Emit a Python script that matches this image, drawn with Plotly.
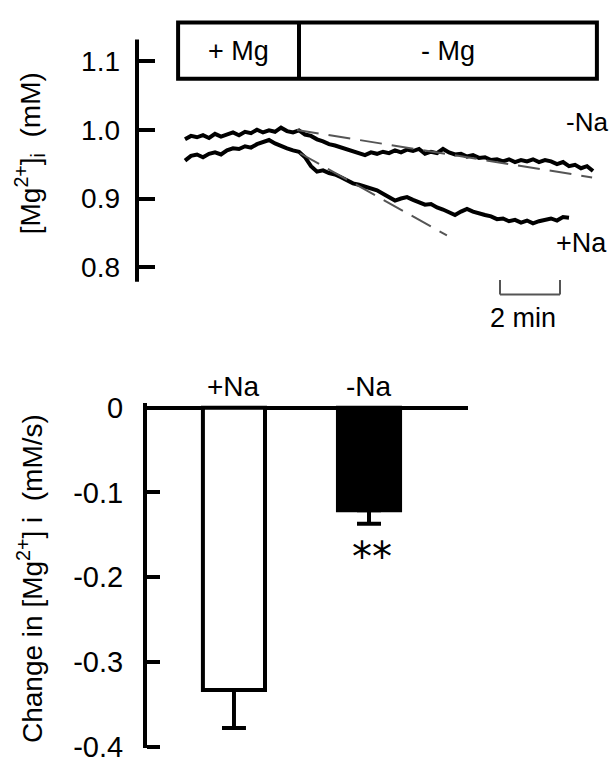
import plotly.graph_objects as go

# ---------------- data: top panel (intracellular Mg trace) ----------------
TIME_MIN = [1.6, 1.8, 2.0, 2.2, 2.4, 2.6, 2.8, 3.0, 3.2, 3.4,
            3.6, 3.8, 4.0, 4.2, 4.4, 4.6, 4.8, 5.0, 5.2, 5.4,
            5.6, 5.8, 6.0, 6.2, 6.4, 6.6, 6.8, 7.0, 7.2, 7.4,
            7.6, 7.8, 8.0, 8.2, 8.4, 8.6, 8.8, 9.0, 9.2, 9.4,
            9.6, 9.8, 10.0, 10.2, 10.4, 10.6, 10.8, 11.0, 11.2, 11.4,
            11.6, 11.8, 12.0, 12.2, 12.4, 12.6, 12.8, 13.0, 13.2, 13.4,
            13.6, 13.8, 14.0, 14.2, 14.4, 14.6, 14.8, 15.0, 15.2]

MG_MINUS_NA = [0.986, 0.991, 0.989, 0.992, 0.988, 0.994, 0.990, 0.993, 0.996, 0.992,
               0.997, 0.995, 1.000, 0.996, 0.999, 0.997, 1.003, 0.998, 0.996, 0.999,
               0.993, 0.991, 0.986, 0.983, 0.979, 0.977, 0.974, 0.972, 0.968, 0.966,
               0.963, 0.967, 0.965, 0.968, 0.966, 0.970, 0.967, 0.971, 0.969, 0.972,
               0.965, 0.968, 0.966, 0.972, 0.967, 0.964, 0.965, 0.961, 0.963, 0.959,
               0.960, 0.956, 0.957, 0.954, 0.957, 0.953, 0.956, 0.954, 0.957, 0.953,
               0.956, 0.954, 0.950, 0.953, 0.947, 0.949, 0.944, 0.947, 0.940]

MG_PLUS_NA = [0.955, 0.962, 0.964, 0.960, 0.965, 0.967, 0.964, 0.970, 0.973, 0.972,
              0.976, 0.974, 0.979, 0.982, 0.985, 0.980, 0.976, 0.973, 0.970, 0.968,
              0.960, 0.947, 0.939, 0.941, 0.937, 0.935, 0.931, 0.927, 0.922, 0.920,
              0.917, 0.914, 0.912, 0.907, 0.902, 0.897, 0.900, 0.902, 0.898, 0.894,
              0.891, 0.892, 0.887, 0.884, 0.880, 0.876, 0.881, 0.885, 0.881, 0.878,
              0.876, 0.874, 0.870, 0.871, 0.867, 0.869, 0.865, 0.868, 0.864, 0.867,
              0.869, 0.871, 0.868, 0.873, 0.872]

FIT_MINUS_NA_T = [5.33, 15.17]
FIT_MINUS_NA_V = [0.9996, 0.9307]
FIT_PLUS_NA_T = [5.43, 10.33]
FIT_PLUS_NA_V = [0.9658, 0.8463]

TOP_TICKS = [0.8, 0.9, 1.0, 1.1]
TOP_TICK_LABELS = ["0.8", "0.9", "1.0", "1.1"]

# protocol bar (+Mg / -Mg), minutes
PROTO_START, PROTO_SWITCH, PROTO_END = 1.37, 5.4, 15.33
SCALE_START, SCALE_LEN = 12.1, 2.0

# ---------------- data: bottom panel (rate bar chart) ----------------
CONDITIONS = ["+Na", "-Na"]
RATE_MEAN = [-0.333, -0.121]
RATE_SEM = [0.045, 0.016]
BAR_FILL = ["white", "black"]
BOT_TICKS = [0, -0.1, -0.2, -0.3, -0.4]
BOT_TICK_LABELS = ["0", "-0.1", "-0.2", "-0.3", "-0.4"]

FONT = "Liberation Sans, Arial, sans-serif"
W, H = 612, 773

fig = go.Figure()

fig.add_trace(go.Scatter(x=TIME_MIN, y=MG_MINUS_NA, mode="lines",
                         line=dict(color="black", width=4), xaxis="x", yaxis="y",
                         showlegend=False))
fig.add_trace(go.Scatter(x=TIME_MIN[:len(MG_PLUS_NA)], y=MG_PLUS_NA, mode="lines",
                         line=dict(color="black", width=4), xaxis="x", yaxis="y",
                         showlegend=False))
for ft, fv in [(FIT_MINUS_NA_T, FIT_MINUS_NA_V), (FIT_PLUS_NA_T, FIT_PLUS_NA_V)]:
    fig.add_trace(go.Scatter(x=ft, y=fv, mode="lines",
                             line=dict(color="#555555", width=2, dash="22px,10px"),
                             xaxis="x", yaxis="y", showlegend=False))

xpos = list(range(len(CONDITIONS)))
fig.add_trace(go.Bar(x=xpos, y=RATE_MEAN, width=0.46,
                     marker=dict(color=BAR_FILL, line=dict(color="black", width=4)),
                     error_y=dict(type="data", symmetric=False,
                                  array=[0] * len(RATE_SEM), arrayminus=RATE_SEM,
                                  color="black", thickness=4, width=12),
                     xaxis="x2", yaxis="y2", showlegend=False))

top_x0, top_x1 = 137 / W, 605 / W
top_y0, top_y1 = 1 - 335 / H, 1 - 5 / H
bot_x0, bot_x1 = 147 / W, 468 / W
bot_y0, bot_y1 = 1 - 762 / H, 1 - 405.6 / H

fig.update_layout(
    width=W, height=H, margin=dict(l=0, r=0, t=0, b=0, pad=0), autosize=False,
    paper_bgcolor="white", plot_bgcolor="white",
    font=dict(family=FONT, color="black"),
    xaxis=dict(domain=[top_x0, top_x1], range=[0, 15.6], visible=False),
    yaxis=dict(domain=[top_y0, top_y1], range=[0.7014, 1.1655], anchor="x",
               showline=False, showgrid=False, zeroline=False,
               tickmode="array", tickvals=TOP_TICKS, ticktext=TOP_TICK_LABELS,
               ticks="inside", ticklen=18, tickwidth=4, tickcolor="black",
               ticklabelstandoff=16, tickfont=dict(size=28, family=FONT)),
    xaxis2=dict(domain=[bot_x0, bot_x1], range=[-0.644, 1.733], visible=False,
                anchor="y2"),
    yaxis2=dict(domain=[bot_y0, bot_y1], range=[-0.402, 0.005], anchor="x2",
                showline=True, linewidth=4, linecolor="black", showgrid=False,
                zeroline=True, zerolinewidth=4, zerolinecolor="black",
                tickmode="array", tickvals=BOT_TICKS, ticktext=BOT_TICK_LABELS,
                ticks="inside", ticklen=13, tickwidth=4, tickcolor="black",
                ticklabelstandoff=14, ticklabeloverflow="allow",
                tickfont=dict(size=29, family=FONT)),
)

shapes = []
shapes.append(dict(type="line", xref="paper", yref="y", x0=top_x0, x1=top_x0,
                   y0=0.779, y1=1.131, line=dict(color="black", width=4)))
shapes.append(dict(type="rect", xref="x", yref="y", x0=PROTO_START, x1=PROTO_END,
                   y0=1.0741, y1=1.1557, line=dict(color="black", width=4)))
shapes.append(dict(type="line", xref="x", yref="y", x0=PROTO_SWITCH, x1=PROTO_SWITCH,
                   y0=1.0741, y1=1.1557, line=dict(color="black", width=4)))
sb = dict(color="#555555", width=2)
shapes.append(dict(type="line", xref="x", yref="y", x0=SCALE_START, x1=SCALE_START + SCALE_LEN,
                   y0=0.7605, y1=0.7605, line=sb))
shapes.append(dict(type="line", xref="x", yref="y", x0=SCALE_START, x1=SCALE_START,
                   y0=0.7605, y1=0.7817, line=sb))
shapes.append(dict(type="line", xref="x", yref="y", x0=SCALE_START + SCALE_LEN,
                   x1=SCALE_START + SCALE_LEN, y0=0.7605, y1=0.7817, line=sb))
fig.update_layout(shapes=shapes)

ann = []
def add(text, x, y, xref, yref, size, family=FONT, angle=0):
    ann.append(dict(text=text, x=x, y=y, xref=xref, yref=yref, showarrow=False,
                    xanchor="center", yanchor="middle", textangle=angle,
                    font=dict(size=size, family=family, color="black")))

add("+ Mg", (PROTO_START + PROTO_SWITCH) / 2, 1.1149, "x", "y", 27)
add("- Mg", (PROTO_SWITCH + PROTO_END) / 2, 1.1149, "x", "y", 27)
add("-Na", 15.0, 1.0108, "x", "y", 26)
add("+Na", 14.83, 0.835, "x", "y", 27)
add("2 min", SCALE_START + SCALE_LEN / 2 - 0.25, 0.727, "x", "y", 27)
add("[Mg<sup>2+</sup>]<sub>i</sub>  (mM)", 30 / W, 1 - 147 / H, "paper", "paper", 28, angle=-90)
add("Change in [Mg<sup>2+</sup>] i  (mM/s)", 30 / W, 1 - 587 / H, "paper", "paper", 28, angle=-90)
for i, c in enumerate(CONDITIONS):
    ann.append(dict(text=c, x=i, y=0, xref="x2", yref="y2", yanchor="bottom", yshift=4,
                    showarrow=False, font=dict(size=28, family=FONT)))
add("**", 1.02, -0.176, "x2", "y2", 40, family="DejaVu Sans")
fig.update_layout(annotations=ann)

fig.write_html("out.html", config={"displayModeBar": False},
               post_script="document.body.style.margin='0';")
